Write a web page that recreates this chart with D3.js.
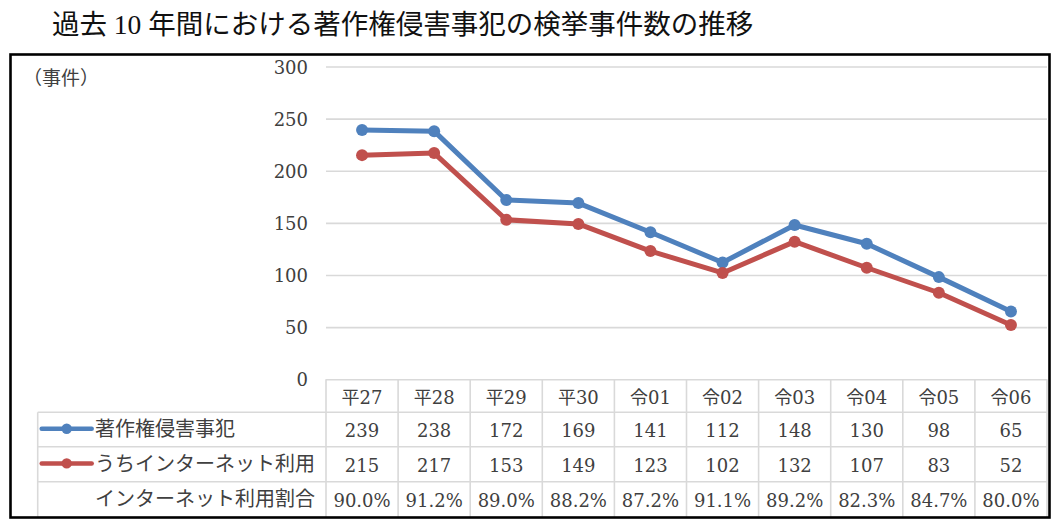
<!DOCTYPE html>
<html>
<head>
<meta charset="utf-8">
<script src="https://cdn.jsdelivr.net/npm/d3@7"></script>
<style>
  body { margin: 0; background: #fff; }
  svg { display: block; }
</style>
</head>
<body>
<svg class="chart"></svg>
<script>
const chartTitle = '過去 10 年間における著作権侵害事犯の検挙事件数の推移'
const unitLabel = '（事件）'
const categories = ['平27', '平28', '平29', '平30', '令01', '令02', '令03', '令04', '令05', '令06']
const totalCases = [239, 238, 172, 169, 141, 112, 148, 130, 98, 65]
const internetCases = [215, 217, 153, 149, 123, 102, 132, 107, 83, 52]
const internetRatio = ['90.0%', '91.2%', '89.0%', '88.2%', '87.2%', '91.1%', '89.2%', '82.3%', '84.7%', '80.0%']
const seriesNames = ['著作権侵害事犯', 'うちインターネット利用']
const ratioName = 'インターネット利用割合'
const yTicks = [0, 50, 100, 150, 200, 250, 300]

const w = 1058
const h = 528
const plotLeft = 326
const plotRight = 1047
const plotTop = 66.5
const plotBottom = 379.3
const tableLeft = 37.7
const rowTops = [379.3, 412.3, 446.7, 481.7, 517]
const colors = ['#4f81bd', '#c0504d']
const gridColor = '#d9d9d9'
const textColor = '#404040'
const numFont = '"DejaVu Serif", "Noto Sans CJK JP", serif'
const jpFont = '"Noto Sans CJK JP", sans-serif'

const svg = d3.select('.chart')
  .attr('width', w)
  .attr('height', h)
  .attr('viewBox', `0 0 ${w} ${h}`)

const x = d3.scaleBand()
  .domain(categories)
  .range([plotLeft, plotRight])
  .padding(0)

const y = d3.scaleLinear()
  .domain([0, 300])
  .range([plotBottom, plotTop])

// title
svg.append('text')
  .attr('x', 52)
  .attr('y', 34)
  .style('font-family', '"Liberation Serif", "Noto Sans CJK JP", serif')
  .style('font-size', '27.5px')
  .attr('fill', '#111')
  .text(chartTitle)

svg.append('text')
  .attr('x', 23)
  .attr('y', 85)
  .style('font-family', jpFont)
  .style('font-size', '19px')
  .attr('fill', textColor)
  .text(unitLabel)

// gridlines + y labels
const yAxis = d3.axisLeft(y)
  .tickValues(yTicks)
  .tickSize(-(plotRight - plotLeft))
  .tickPadding(18)
  .tickFormat(d3.format('d'))

const yG = svg.append('g')
  .attr('transform', `translate(${plotLeft},0)`)
  .call(yAxis)
yG.select('.domain').remove()
yG.selectAll('.tick line')
  .attr('stroke', gridColor)
  .attr('stroke-width', 1.6)
yG.selectAll('.tick text')
  .attr('dy', null)
  .attr('y', 6.5)
  .style('font-family', numFont)
  .style('font-size', '18px')
  .attr('fill', textColor)

// data table grid
const tableBottom = rowTops[4]
const table = svg.append('g')
const colEdges = categories.map(c => x(c)).concat([plotRight])

table.selectAll('.vline')
  .data(colEdges)
  .enter()
  .append('line')
  .attr('x1', d => d)
  .attr('x2', d => d)
  .attr('y1', plotBottom)
  .attr('y2', tableBottom)
  .attr('stroke', gridColor)
  .attr('stroke-width', 1.6)

table.append('line')
  .attr('x1', tableLeft)
  .attr('x2', tableLeft)
  .attr('y1', rowTops[1])
  .attr('y2', tableBottom)
  .attr('stroke', gridColor)
  .attr('stroke-width', 1.6)

table.selectAll('.hline')
  .data(rowTops.slice(1, 4))
  .enter()
  .append('line')
  .attr('x1', tableLeft)
  .attr('x2', plotRight)
  .attr('y1', d => d)
  .attr('y2', d => d)
  .attr('stroke', gridColor)
  .attr('stroke-width', 1.6)

// header labels via bottom axis
const xAxis = d3.axisBottom(x).tickSize(0).tickPadding(0)
const xG = svg.append('g')
  .attr('transform', `translate(0,${plotBottom})`)
  .call(xAxis)
xG.select('.domain').remove()
xG.selectAll('.tick text')
  .attr('dy', null)
  .attr('y', 25)
  .style('font-family', numFont)
  .style('font-size', '18px')
  .attr('fill', textColor)

// table rows
const rows = [totalCases, internetCases, internetRatio]
rows.forEach((vals, r) => {
  svg.append('g')
    .selectAll('text')
    .data(vals)
    .enter()
    .append('text')
    .attr('x', (_, i) => x(categories[i]) + x.bandwidth() / 2)
    .attr('y', rowTops[r + 1] + 25)
    .attr('text-anchor', 'middle')
    .style('font-family', numFont)
    .style('font-size', '18px')
    .attr('fill', textColor)
    .text(d => d)
})

const rowNames = seriesNames.concat([ratioName])
rowNames.forEach((name, r) => {
  svg.append('text')
    .attr('x', 95)
    .attr('y', (rowTops[r + 1] + rowTops[r + 2]) / 2 + 6.6)
    .style('font-family', jpFont)
    .style('font-size', '20px')
    .attr('fill', textColor)
    .text(name)
})

// legend keys
seriesNames.forEach((_, r) => {
  const cy = (rowTops[r + 1] + rowTops[r + 2]) / 2 - 0.8
  svg.append('line')
    .attr('x1', 41.7)
    .attr('x2', 91.7)
    .attr('y1', cy)
    .attr('y2', cy)
    .attr('stroke', colors[r])
    .attr('stroke-width', 4.5)
    .attr('stroke-linecap', 'round')
  svg.append('circle')
    .attr('cx', 66.7)
    .attr('cy', cy)
    .attr('r', 5.2)
    .attr('fill', colors[r])
})

// series lines
const line = d3.line()
  .x((_, i) => x(categories[i]) + x.bandwidth() / 2)
  .y(d => y(d))

const series = [totalCases, internetCases]
series.forEach((vals, s) => {
  svg.append('path')
    .datum(vals)
    .attr('d', line)
    .attr('fill', 'none')
    .attr('stroke', colors[s])
    .attr('stroke-width', 5)
    .attr('stroke-linejoin', 'round')

  svg.append('g')
    .selectAll('circle')
    .data(vals)
    .enter()
    .append('circle')
    .attr('cx', (_, i) => x(categories[i]) + x.bandwidth() / 2)
    .attr('cy', d => y(d))
    .attr('r', 6)
    .attr('fill', colors[s])
})

// outer frame
svg.append('rect')
  .attr('x', 10.5)
  .attr('y', 54.5)
  .attr('width', 1039)
  .attr('height', 463)
  .attr('fill', 'none')
  .attr('stroke', '#000')
  .attr('stroke-width', 2.6)
</script>
</body>
</html>
